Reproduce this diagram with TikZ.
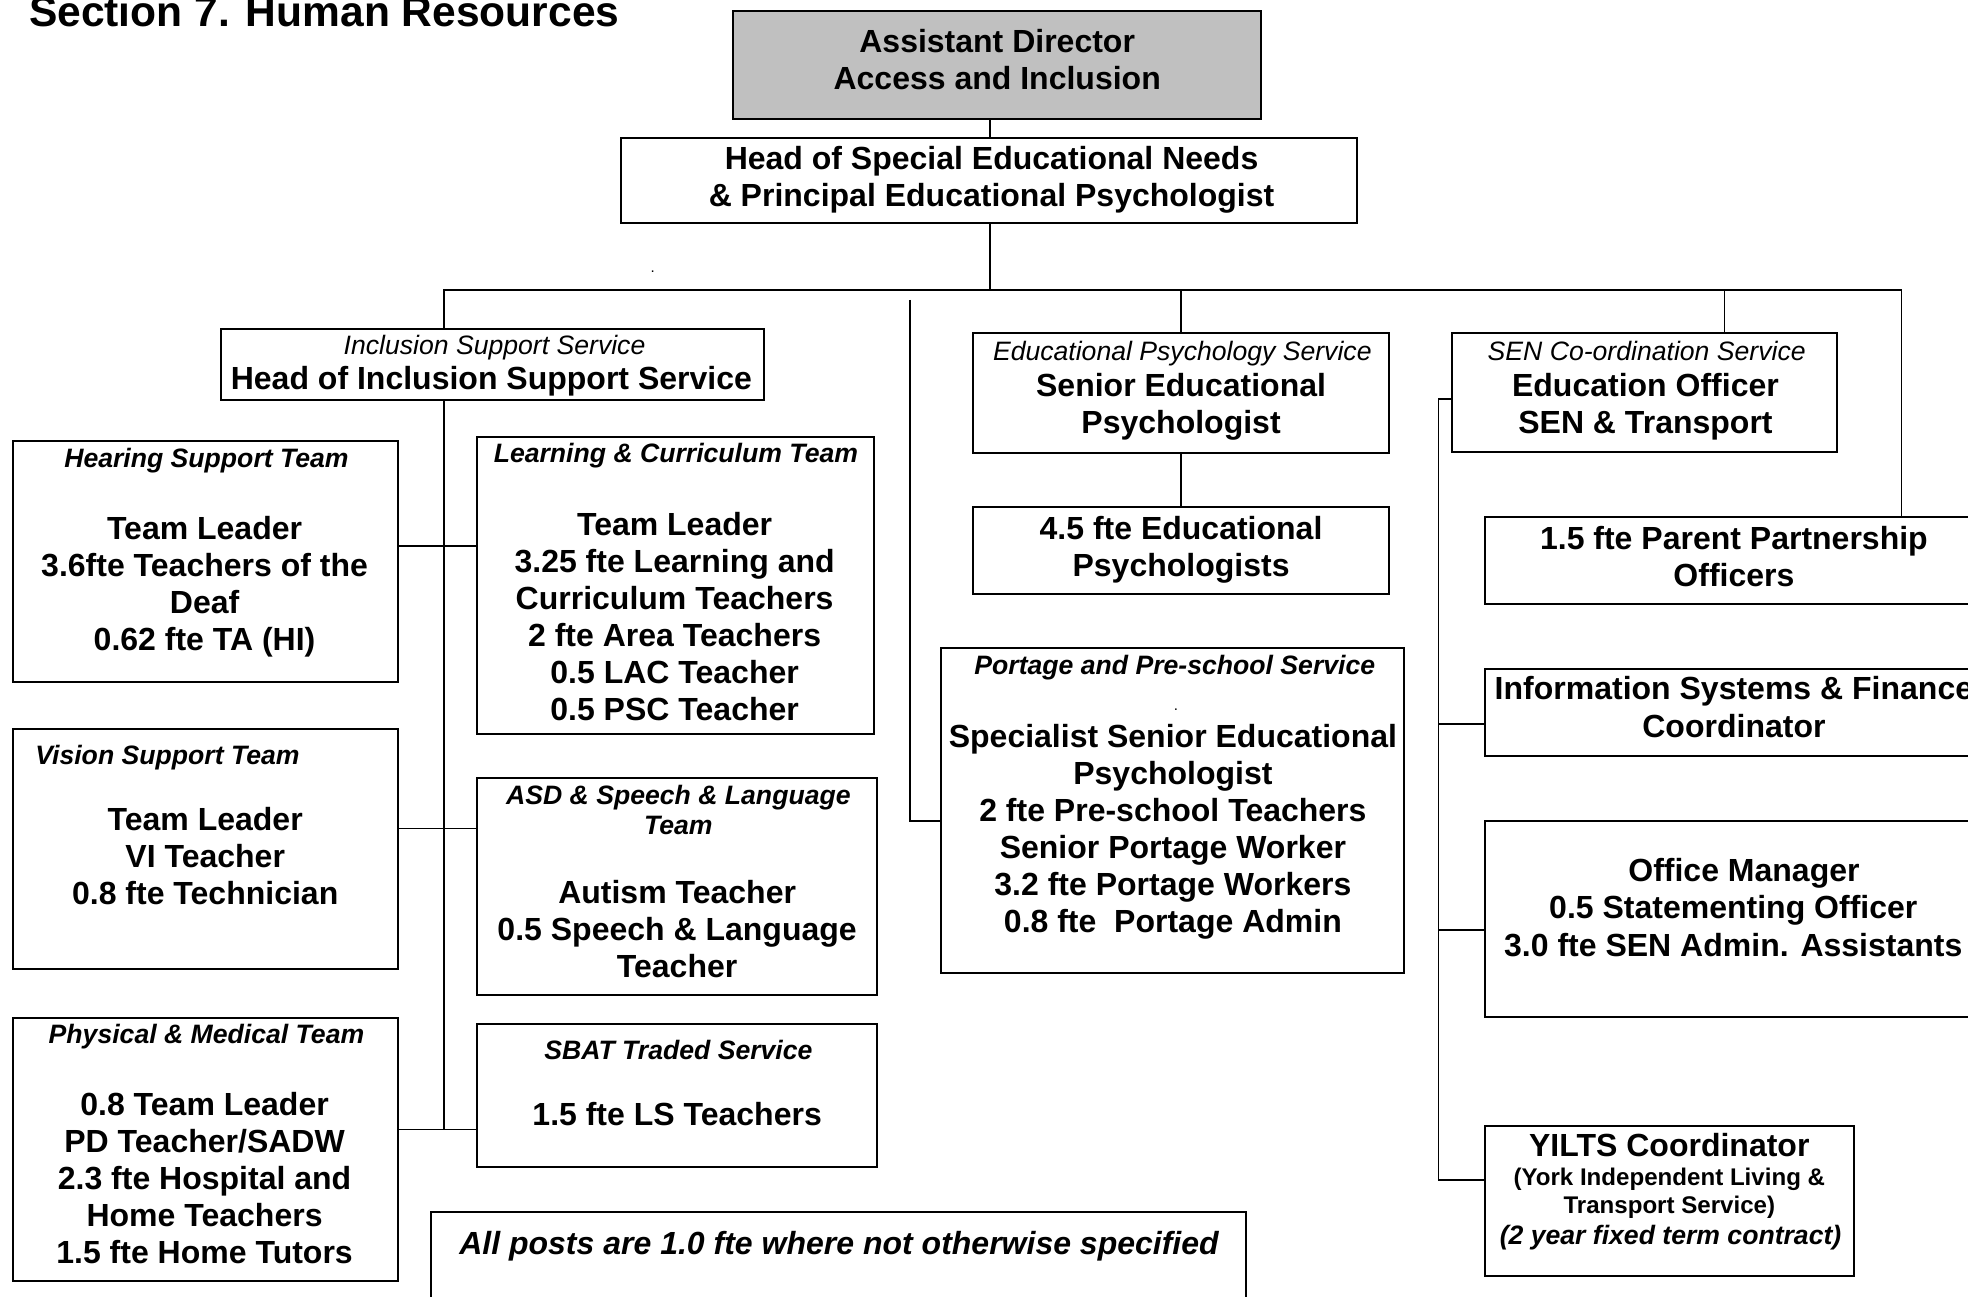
\documentclass[tikz,border=0pt]{standalone}
\usepackage{fontspec}
\setmainfont{Liberation Sans}
\usetikzlibrary{fit}
\definecolor{boxgray}{HTML}{C0C0C0}
\tikzset{
  box/.style={draw, line width=1.6pt, inner sep=0pt},
  conn/.style={line width=1.3pt},
  ct/.style={font=\bfseries\fontsize{25.5}{29.5}\selectfont, align=center, inner sep=0pt, anchor=north, yshift=20.65pt},
  hb/.style={font=\bfseries\itshape\fontsize{21.2}{23.5}\selectfont, align=center, inner sep=0pt, anchor=north, yshift=16.45pt},
  hi/.style={font=\itshape\fontsize{21.2}{23.5}\selectfont, align=center, inner sep=0pt, anchor=north, yshift=16.45pt},
  sm/.style={font=\bfseries\fontsize{19.2}{22}\selectfont, align=center, inner sep=0pt, anchor=north, yshift=15.4pt},
  nt/.style={font=\bfseries\itshape\fontsize{25.5}{29.5}\selectfont, inner sep=0pt, anchor=base},
}
\begin{document}
\begin{tikzpicture}[x=1pt,y=-1pt]
\useasboundingbox (0,0) rectangle (1568,1033);
\clip (0,0) rectangle (1568,1033);

% title
\node[font=\bfseries\fontsize{33.9}{40}\selectfont, anchor=base west, inner sep=0pt] (title) at (23,21) {Section 7. Human Resources};

% boxes
\node[box, fill=boxgray, fit={(584,9) (1005,95)}] (ad) {};
\node[box, fit={(495,110) (1081,178)}] (hsen) {};
\node[box, fit={(176,262) (609,319)}] (inc) {};
\node[box, fit={(10,351) (317,543)}] (hear) {};
\node[box, fit={(380,348) (696,585)}] (lc) {};
\node[box, fit={(10,581) (317,772)}] (vis) {};
\node[box, fit={(380,620) (699,793)}] (asd) {};
\node[box, fit={(10,811) (317,1021)}] (phys) {};
\node[box, fit={(380,816) (699,930)}] (sbat) {};
\node[box, fit={(343,966) (993,1045)}] (note) {};
\node[box, fit={(775,265) (1107,361)}] (ep) {};
\node[box, fit={(775,404) (1107,473)}] (ep45) {};
\node[box, fit={(750,516) (1119,775)}] (port) {};
\node[box, fit={(1157,265) (1464,360)}] (sc) {};
\node[box, fit={(1183,412) (1590,481)}] (pp) {};
\node[box, fit={(1183,533) (1590,602)}] (info) {};
\node[box, fit={(1183,654) (1590,810)}] (off) {};
\node[box, fit={(1183,897) (1477,1017)}] (yilts) {};

% texts
\node[ct] (ad-t) at (794.5,41.5) {\strut Assistant Director\\Access and Inclusion};
\node[ct] (hsen-t) at (790,134.5) {\strut Head of Special Educational Needs\\\& Principal Educational Psychologist};
\node[hi] (inc-h) at (394,282) {\strut Inclusion Support Service};
\node[ct] (inc-t) at (391.5,310.5) {\strut Head of Inclusion Support Service};
\node[hb] (hear-h) at (164.5,372) {\strut Hearing Support Team};
\node[ct] (hear-t) at (163,429.5) {\strut Team Leader\\3.6fte Teachers of the\\Deaf\\0.62 fte TA (HI)};
\node[hb] (lc-h) at (538.5,368) {\strut Learning \& Curriculum Team};
\node[ct] (lc-t) at (537.5,426.5) {\strut Team Leader\\3.25 fte Learning and\\Curriculum Teachers\\2 fte Area Teachers\\0.5 LAC Teacher\\0.5 PSC Teacher};
\node[hb, anchor=north west] (vis-h) at (28,609) {\strut Vision Support Team};
\node[ct] (vis-t) at (163.5,661.5) {\strut Team Leader\\VI Teacher\\0.8 fte Technician};
\node[hb] (asd-h) at (540.5,641) {\strut ASD \& Speech \& Language\\Team};
\node[ct] (asd-t) at (539.5,719.5) {\strut Autism Teacher\\0.5 Speech \& Language\\Teacher};
\node[hb] (phys-h) at (164.5,831) {\strut Physical \& Medical Team};
\node[ct] (phys-t) at (163,888.5) {\strut 0.8 Team Leader\\PD Teacher/SADW\\2.3 fte Hospital and\\Home Teachers\\1.5 fte Home Tutors};
\node[hb] (sbat-h) at (540.5,844) {\strut SBAT Traded Service};
\node[ct] (sbat-t) at (539.5,896.5) {\strut 1.5 fte LS Teachers};
\node[nt] (note-t) at (668.5,999.5) {All posts are 1.0 fte where not otherwise specified};
\node[hi] (ep-h) at (942,287) {\strut Educational Psychology Service};
\node[ct] (ep-t) at (941,315.5) {\strut Senior Educational\\Psychologist};
\node[ct] (ep45-t) at (941,429.5) {\strut 4.5 fte Educational\\Psychologists};
\node[hb] (port-h) at (936,537) {\strut Portage and Pre-school Service};
\node[font=\fontsize{12}{14}\selectfont, inner sep=0pt, anchor=base] (port-d) at (937,566) {.};
\node[ct] (port-t) at (934.5,595.5) {\strut Specialist Senior Educational\\Psychologist\\2 fte Pre-school Teachers\\Senior Portage Worker\\3.2 fte Portage Workers\\0.8 fte\ \ Portage Admin};
\node[hi] (sc-h) at (1312,287) {\strut SEN Co-ordination Service};
\node[ct] (sc-t) at (1311,315.5) {\strut Education Officer\\SEN \& Transport};
\node[ct] (pp-t) at (1381.5,437.5) {\strut 1.5 fte Parent Partnership\\Officers};
\node[ct] (info-t) at (1381.5,557.5) {\strut Information Systems \& Finance\\Coordinator};
\node[ct] (off-t) at (1381,702.5) {\strut\hspace*{17pt}Office Manager\\0.5 Statementing Officer\\3.0 fte SEN Admin. Assistants};
\node[ct] (yilts-t) at (1330,921.5) {\strut YILTS Coordinator};
\node[sm] (yilts-s) at (1330,944.5) {\strut (York Independent Living \&\\Transport Service)};
\node[hb] (yilts-c) at (1331,991) {\strut (2 year fixed term contract)};
\node[font=\fontsize{12}{14}\selectfont, inner sep=0pt, anchor=base] (stray) at (520,217) {.};

% connectors
\coordinate (busL) at (354,231);
\coordinate (busR) at (1515,231);
\coordinate (busC) at (789,231);
\coordinate (busS) at (1374,231);
\draw[conn] (ad.south -| busC) -- (hsen.north -| busC);
\draw[conn] (hsen.south -| busC) -- (busC);
\draw[conn] (inc.north -| busL) -- (busL) -- (busR) -- (pp.north -| busR);
\draw[conn] (busC -| ep.north) -- (ep.north);
\draw[conn] (busS) -- (sc.north -| busS);
\draw[conn] (ep.south) -- (ep45.north);

\coordinate (ptop) at (725,239);
\draw[conn] (ptop) |- (port.west |- 0,654);

\coordinate (iB) at (354,900);
\draw[conn] (inc.south -| busL) -- (iB);
\draw[conn] (hear.east |- 0,435) -- (lc.west |- 0,435);
\draw[conn] (vis.east |- 0,660) -- (asd.west |- 0,660);
\draw[conn] (phys.east |- 0,900) -- (sbat.west |- 0,900);

\coordinate (sT) at (1146,318);
\coordinate (sB) at (1146,940);
\draw[conn] (sc.west |- sT) -- (sT) -- (sB) -- (yilts.west |- sB);
\draw[conn] (sT |- 0,577) -- (info.west |- 0,577);
\draw[conn] (sT |- 0,741) -- (off.west |- 0,741);
\end{tikzpicture}
\end{document}
